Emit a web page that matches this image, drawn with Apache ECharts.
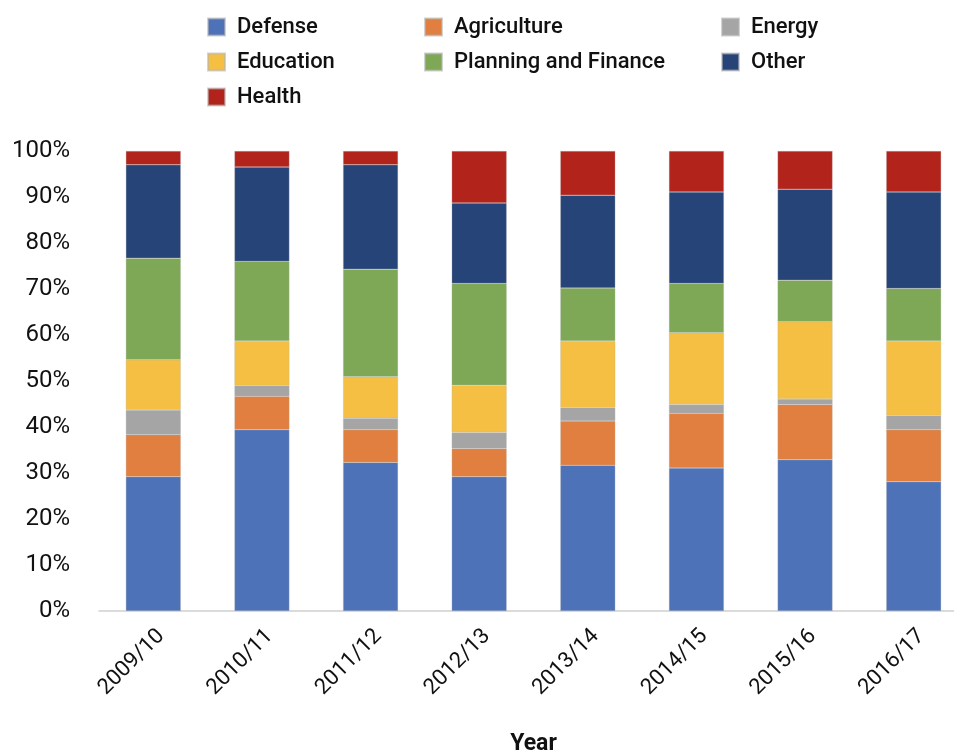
<!DOCTYPE html>
<html>
<head>
<meta charset="utf-8">
<script src="https://cdn.jsdelivr.net/npm/echarts@6/dist/echarts.min.js"></script>
<style>html,body{margin:0;padding:0;background:#fff}#c{width:954px;height:754px}</style>
</head>
<body>
<div id="c"></div>
<script>
const categories = ['2009/10','2010/11','2011/12','2012/13','2013/14','2014/15','2015/16','2016/17'];
const defense     = [29.2, 39.4, 32.3, 29.2, 31.7, 31.1, 32.9, 28.1];
const agriculture = [9.1, 7.3, 7.1, 6.1, 9.6, 11.9, 12.0, 11.3];
const energy      = [5.4, 2.3, 2.5, 3.5, 2.9, 1.9, 1.2, 3.1];
const education   = [10.9, 9.7, 9.0, 10.3, 14.5, 15.6, 16.8, 16.2];
const planning    = [22.1, 17.3, 23.4, 22.1, 11.5, 10.7, 9.0, 11.4];
const other       = [20.3, 20.5, 22.7, 17.5, 20.2, 19.9, 19.8, 21.0];
const health      = [3.0, 3.5, 3.0, 11.3, 9.6, 8.9, 8.3, 8.9];
const yTicks = [0,10,20,30,40,50,60,70,80,90,100];

const seriesDefs = [
  ['Defense', defense, '#4e72b8'],
  ['Agriculture', agriculture, '#e07f3f'],
  ['Energy', energy, '#a5a5a5'],
  ['Education', education, '#f4bf42'],
  ['Planning and Finance', planning, '#7ea855'],
  ['Other', other, '#264478'],
  ['Health', health, '#b2231b']
];
const font = 'Roboto, "Liberation Sans", sans-serif';
const legendBase = {
  orient: 'vertical', top: 11, itemWidth: 17, itemHeight: 17, itemGap: 13,
  icon: 'rect',
  textStyle: {fontFamily: font, fontSize: 22, fontWeight: 500, color: '#111', lineHeight: 22, padding:[0,0,0,7]}
};
const chart = echarts.init(document.getElementById('c'));
chart.setOption({
  animation: false,
  color: seriesDefs.map(d => d[2]),
  legend: [
    Object.assign({}, legendBase, {left: 202, data: ['Defense','Education','Health']}),
    Object.assign({}, legendBase, {left: 419, data: ['Agriculture','Planning and Finance']}),
    Object.assign({}, legendBase, {left: 716, data: ['Energy','Other']})
  ],
  grid: {left: 99, right: -14, top: 151, bottom: 143, containLabel: false, outerBoundsMode: 'none'},
  xAxis: {
    type: 'category', data: categories,
    name: 'Year', nameLocation: 'middle', nameGap: 122,
    nameTextStyle: {fontFamily: font, fontSize: 23, fontWeight: 'bold', color: '#111'},
    axisLine: {lineStyle: {color: '#d0d0d0', width: 1.5}},
    axisTick: {show: false},
    axisLabel: {rotate: 45, fontFamily: font, fontSize: 22, color: '#111', margin: 14, verticalAlign: 'top'}
  },
  yAxis: {
    type: 'value', min: 0, max: 100, interval: 10,
    axisLine: {show: false}, axisTick: {show: false}, splitLine: {show: false},
    axisLabel: {fontFamily: font, fontSize: 24, color: '#111', margin: 29,
      formatter: v => yTicks.includes(v) ? v + '%' : ''}
  },
  series: seriesDefs.map(d => ({
    name: d[0], type: 'bar', stack: 'total', data: d[1], barWidth: '50.6%',
    itemStyle: {color: d[2], borderColor: 'rgba(180,180,180,0.6)', borderWidth: 0.5}
  }))
});
</script>
</body>
</html>
